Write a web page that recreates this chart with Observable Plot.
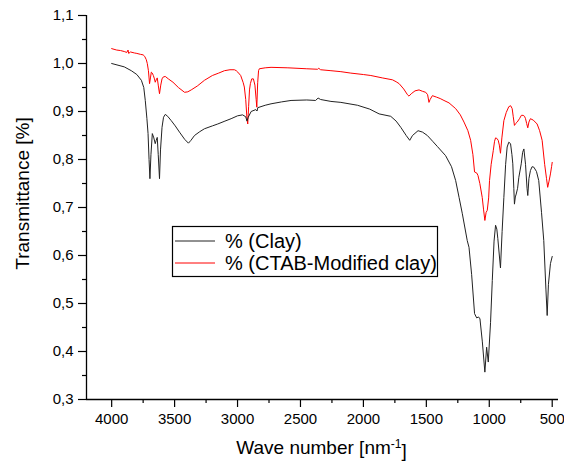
<!DOCTYPE html>
<html>
<head>
<meta charset="utf-8">
<script src="https://cdn.jsdelivr.net/npm/d3@7"></script>
<script src="https://cdn.jsdelivr.net/npm/@observablehq/plot@0.6"></script>
<style>
  html, body { margin: 0; padding: 0; background: #fff; }
  #wrap { position: relative; width: 564px; height: 463px; font-family: "Liberation Sans", Arial, sans-serif; }
</style>
</head>
<body>
<div id="wrap"></div>
<script>
// ---- data ----
const seriesNames = ["% (Clay)", "% (CTAB-Modified clay)"];
const seriesColors = ["#222222", "#ff0000"];

const clayWave = [4000,3900,3844,3800,3764,3745,3733,3720,3711,3703,3696,3688,3677,3665,3654,3646,3638,3630,3620,3612,3600,3588,3574,3555,3527,3495,3461,3420,3390,3370,3342,3300,3263,3200,3157,3100,3051,3000,2960,2935,2925,2915,2892,2855,2845,2839,2780,2734,2650,2575,2450,2380,2360,2340,2258,2179,2047,1950,1875,1783,1740,1703,1660,1632,1610,1566,1530,1492,1450,1412,1347,1300,1267,1240,1214,1175,1161,1140,1117,1100,1085,1074,1055,1035,1021,1008,990,976,962,950,940,932,911,898,884,870,858,845,831,820,813,805,800,793,786,775,765,746,735,725,712,700,694,685,673,660,646,625,607,585,567,550,540,530,514,500];
const clayT = [1.000,0.993,0.985,0.977,0.965,0.950,0.923,0.885,0.854,0.800,0.760,0.810,0.854,0.845,0.833,0.840,0.846,0.810,0.760,0.820,0.867,0.888,0.894,0.890,0.881,0.870,0.857,0.842,0.834,0.840,0.850,0.858,0.864,0.870,0.874,0.880,0.885,0.891,0.893,0.889,0.880,0.888,0.900,0.904,0.901,0.908,0.913,0.916,0.920,0.923,0.924,0.923,0.928,0.925,0.921,0.919,0.913,0.905,0.895,0.890,0.880,0.867,0.850,0.840,0.850,0.860,0.857,0.850,0.838,0.827,0.808,0.785,0.756,0.721,0.687,0.631,0.617,0.560,0.479,0.470,0.472,0.468,0.420,0.357,0.409,0.378,0.460,0.548,0.630,0.663,0.655,0.635,0.574,0.650,0.721,0.790,0.826,0.836,0.833,0.810,0.791,0.740,0.707,0.722,0.728,0.740,0.763,0.791,0.815,0.822,0.790,0.740,0.725,0.760,0.777,0.785,0.784,0.775,0.756,0.690,0.631,0.530,0.475,0.540,0.583,0.598];

const ctabWave = [4000,3960,3930,3900,3880,3870,3865,3850,3820,3800,3770,3750,3738,3725,3717,3708,3699,3692,3685,3677,3669,3660,3654,3646,3638,3630,3620,3610,3600,3590,3574,3550,3513,3470,3421,3395,3368,3320,3263,3200,3150,3104,3060,3025,3010,2998,2975,2955,2946,2935,2925,2919,2912,2905,2898,2887,2874,2862,2852,2847,2840,2833,2827,2780,2734,2600,2450,2364,2355,2340,2258,2179,2100,2000,1941,1850,1769,1740,1716,1680,1650,1638,1620,1590,1558,1530,1505,1490,1479,1470,1452,1420,1390,1360,1320,1267,1230,1201,1170,1148,1130,1117,1100,1090,1075,1056,1045,1035,1025,1016,1005,998,985,968,958,950,940,929,920,911,900,884,865,845,830,818,810,800,790,778,760,745,731,720,712,703,694,685,673,650,620,600,580,560,545,536,525,514,505,500];
const ctabT = [1.031,1.028,1.027,1.025,1.023,1.028,1.021,1.024,1.022,1.021,1.019,1.018,1.015,1.008,1.000,0.985,0.958,0.970,0.982,0.980,0.975,0.968,0.961,0.966,0.970,0.955,0.937,0.955,0.968,0.972,0.973,0.968,0.961,0.950,0.940,0.941,0.945,0.953,0.965,0.975,0.980,0.985,0.987,0.987,0.985,0.982,0.975,0.960,0.951,0.925,0.885,0.874,0.910,0.945,0.958,0.968,0.968,0.955,0.925,0.909,0.960,0.985,0.989,0.991,0.992,0.991,0.989,0.988,0.990,0.987,0.985,0.983,0.980,0.977,0.975,0.970,0.966,0.962,0.958,0.947,0.935,0.932,0.937,0.943,0.945,0.942,0.940,0.935,0.919,0.925,0.933,0.930,0.927,0.923,0.918,0.906,0.893,0.878,0.860,0.840,0.810,0.774,0.772,0.767,0.750,0.721,0.695,0.673,0.690,0.694,0.720,0.756,0.790,0.819,0.838,0.845,0.844,0.840,0.830,0.813,0.845,0.881,0.898,0.910,0.912,0.906,0.890,0.871,0.875,0.878,0.885,0.892,0.892,0.890,0.885,0.875,0.866,0.878,0.885,0.882,0.874,0.860,0.840,0.790,0.760,0.742,0.755,0.770,0.785,0.794];

const xTicks = [4000,3500,3000,2500,2000,1500,1000,500];
const xMinor = [3750,3250,2750,2250,1750,1250,750];
const yTicks = [0.3,0.4,0.5,0.6,0.7,0.8,0.9,1.0,1.1];
const yMinor = [0.35,0.45,0.55,0.65,0.75,0.85,0.95,1.05];
const xTitle = "Wave number [nm⁻¹]";
const yTitle = "Transmittance [%]";

// ---- build tables ----
const clay = clayWave.map((w, i) => ({w, t: clayT[i]}));
const ctab = ctabWave.map((w, i) => ({w, t: ctabT[i]}));

const font = "Liberation Sans, Arial, sans-serif";
const chart = Plot.plot({
  width: 564,
  height: 463,
  marginLeft: 86,
  marginRight: 6,
  marginTop: 15,
  marginBottom: 64,
  style: {fontFamily: font, background: "#fff", color: "#000"},
  x: {domain: [4200, 450], axis: null},
  y: {domain: [0.3, 1.1], axis: null},
  marks: [
    Plot.line(ctab, {x: "w", y: "t", stroke: seriesColors[1], strokeWidth: 1}),
    Plot.line(clay, {x: "w", y: "t", stroke: seriesColors[0], strokeWidth: 1}),
    Plot.ruleX([4200], {stroke: "#000", strokeWidth: 1.3}),
    Plot.ruleY([0.3], {stroke: "#000", strokeWidth: 1.3}),
    Plot.axisY(yTicks, {tickSize: 8, tickPadding: 5, strokeWidth: 1.2, fontSize: 15, label: null,
      tickFormat: d => d.toFixed(1).replace(".", ",")}),
    Plot.axisY(yMinor, {tickSize: 4, strokeWidth: 1.2, label: null, tickFormat: () => ""}),
    Plot.axisX(xTicks, {tickSize: 8, tickPadding: 6, strokeWidth: 1.2, fontSize: 15, label: null,
      tickFormat: d => String(d)}),
    Plot.axisX(xMinor, {tickSize: 4, strokeWidth: 1.2, label: null, tickFormat: () => ""}),
    Plot.text([yTitle], {frameAnchor: "left", textAnchor: "middle", lineAnchor: "middle", dx: -64, dy: -14, rotate: -90, fontSize: 19, fill: "#000"}),
    Plot.text([xTitle], {frameAnchor: "bottom", textAnchor: "middle", dx: -1, dy: 54, fontSize: 19, fill: "#000"})
  ]
});

const wrap = document.getElementById("wrap");
wrap.appendChild(chart);

// render superscript in x title as a real tspan
d3.select(chart).selectAll("text").filter(function() { return this.textContent === xTitle; })
  .each(function() {
    const t = d3.select(this);
    t.text(null);
    t.append("tspan").text("Wave number [nm");
    t.append("tspan").attr("dy", "-0.45em").attr("font-size", "12px").text("-1");
    t.append("tspan").attr("dy", "0.45em").text("]");
  });

// legend box (inside the SVG)
const lg = d3.select(chart).append("g").attr("transform", "translate(172,226)")
  .attr("text-anchor", "start");
lg.append("rect").attr("x", 0.5).attr("y", 0.5).attr("width", 265).attr("height", 50)
  .attr("fill", "#fff").attr("stroke", "#000").attr("stroke-width", 1.2);
seriesNames.forEach((name, i) => {
  const cy = 15 + i * 22;
  lg.append("line").attr("x1", 3).attr("x2", 43).attr("y1", cy).attr("y2", cy)
    .attr("stroke", seriesColors[i]).attr("stroke-width", 1);
  lg.append("text").attr("x", 53).attr("y", cy).attr("dy", "0.35em")
    .attr("text-anchor", "start")
    .attr("font-size", 20).attr("fill", "#000").attr("font-family", font).text(name);
});
</script>
</body>
</html>
